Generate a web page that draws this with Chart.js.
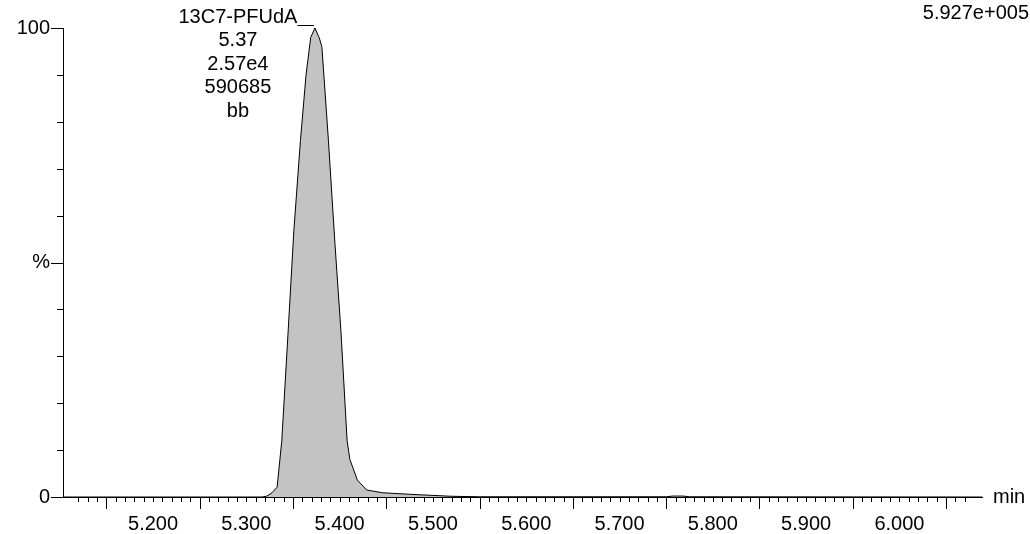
<!DOCTYPE html>
<html lang="en">
    <head>
        <meta charset="UTF-8" />
        <title>13C7-PFUdA chromatogram</title>
        <script src="https://cdn.jsdelivr.net/npm/chart.js"></script>
        <style>
            html, body { margin: 0; padding: 0; background: #fff; }
            #wrap { width: 1030px; height: 534px; position: relative; }
        </style>
    </head>
    <body>
        <div id="wrap"><canvas id="myChart"></canvas></div>

        <script>
            // retention time (min) and relative intensity (%)
            const rtMin = [5.1035, 5.2, 5.3, 5.317, 5.322, 5.3275, 5.333, 5.338, 5.345, 5.351, 5.358, 5.364, 5.369, 5.3735,
                5.378, 5.381, 5.388, 5.395, 5.4015, 5.408, 5.411, 5.419, 5.429, 5.446, 5.483, 5.52, 5.55,
                5.75, 5.757, 5.768, 5.775, 6.0885]
            const pctAbund = [0, 0, 0, 0, 0.2, 0.9, 2.1, 12, 36, 57, 76, 90, 98, 100,
                98, 96, 76, 54, 35, 12, 8, 3.6, 1.5, 0.9, 0.5, 0.15, 0.05,
                0.05, 0.2, 0.2, 0.05, 0]

            // integration baseline (bb)
            const baseRt = [5.322, 5.446]
            const basePct = [0, 0.7]

            const xMin = 5.1035
            const xMax = 6.0885
            const peakRt = 5.3735
            const peakLabel = ['13C7-PFUdA', '5.37', '2.57e4', '590685', 'bb']
            const maxIntensity = '5.927e+005'
            const yLabels = { 0: '0', 50: '%', 100: '100' }

            const FONT = '"Liberation Sans", Arial, Helvetica, sans-serif'
            Chart.defaults.font.family = FONT
            Chart.defaults.font.size = 20
            Chart.defaults.color = '#000'

            const isWhole = (v, m) => Math.abs(v * m - Math.round(v * m)) < 1e-6

            const extras = {
                id: 'extras',
                afterDraw(chart) {
                    const { ctx, chartArea } = chart
                    const xs = chart.scales.x
                    const ys = chart.scales.y
                    ctx.save()
                    ctx.strokeStyle = '#000'
                    ctx.lineWidth = 1

                    // x ticks
                    xs.ticks.forEach((t) => {
                        if (!isWhole(t.value, 100)) return
                        const px = Math.round(xs.getPixelForValue(t.value)) + 0.5
                        const k = Math.round(t.value * 100)
                        const len = k % 10 === 5 ? 12 : 5
                        ctx.beginPath()
                        ctx.moveTo(px, chartArea.bottom)
                        ctx.lineTo(px, chartArea.bottom + len)
                        ctx.stroke()
                    })

                    // y ticks
                    ys.ticks.forEach((t) => {
                        const py = Math.round(ys.getPixelForValue(t.value)) + 0.5
                        const len = yLabels[t.value] !== undefined ? 12 : 6
                        ctx.beginPath()
                        ctx.moveTo(chartArea.left, py)
                        ctx.lineTo(chartArea.left - len, py)
                        ctx.stroke()
                    })

                    // peak annotation
                    const apexX = xs.getPixelForValue(peakRt)
                    const apexY = ys.getPixelForValue(100)
                    const cx = apexX - 77
                    ctx.font = '20px ' + FONT
                    ctx.fillStyle = '#000'
                    ctx.textAlign = 'center'
                    ctx.textBaseline = 'middle'
                    peakLabel.forEach((s, i) => {
                        ctx.fillText(s, cx, 17 + i * 23.5)
                    })
                    const w = ctx.measureText(peakLabel[0]).width
                    ctx.beginPath()
                    ctx.moveTo(cx + w / 2, apexY - 2.5)
                    ctx.lineTo(apexX - 1, apexY - 2.5)
                    ctx.stroke()

                    // max intensity and unit
                    ctx.textAlign = 'right'
                    ctx.fillText(maxIntensity, 1029, 13)
                    ctx.textAlign = 'left'
                    ctx.fillText('min', chartArea.right + 11, chartArea.bottom)
                    ctx.restore()
                },
            }

            const config = {
                type: 'line',
                data: {
                    datasets: [
                        {
                            data: rtMin.map((x, i) => ({ x: x, y: pctAbund[i] })),
                            borderColor: '#000',
                            borderWidth: 1,
                            backgroundColor: '#c3c3c3',
                            fill: 'origin',
                            pointRadius: 0,
                            tension: 0,
                        },
                        {
                            data: baseRt.map((x, i) => ({ x: x, y: basePct[i] })),
                            borderColor: '#333',
                            borderWidth: 1,
                            fill: false,
                            pointRadius: 0,
                        },
                    ],
                },
                options: {
                    responsive: true,
                    maintainAspectRatio: false,
                    animation: false,
                    events: [],
                    layout: { padding: { top: 28, right: 48, left: 0, bottom: 0 } },
                    plugins: { legend: { display: false }, tooltip: { enabled: false } },
                    scales: {
                        x: {
                            type: 'linear',
                            min: xMin,
                            max: xMax,
                            afterFit: (s) => { s.height = 37 },
                            grid: { display: false },
                            border: { display: true, color: '#000', width: 1 },
                            ticks: {
                                stepSize: 0.01,
                                autoSkip: false,
                                maxRotation: 0,
                                padding: 7,
                                callback: (v) => (isWhole(v, 10) ? v.toFixed(3) : ''),
                            },
                        },
                        y: {
                            min: 0,
                            max: 100,
                            afterFit: (s) => { s.width = 63 },
                            grid: { display: false },
                            border: { display: true, color: '#000', width: 1 },
                            ticks: {
                                stepSize: 10,
                                autoSkip: false,
                                padding: 5,
                                callback: (v) => (yLabels[v] !== undefined ? yLabels[v] : ''),
                            },
                        },
                    },
                },
                plugins: [extras],
            }

            const myChart = new Chart(document.getElementById('myChart'), config)
        </script>
    </body>
</html>
